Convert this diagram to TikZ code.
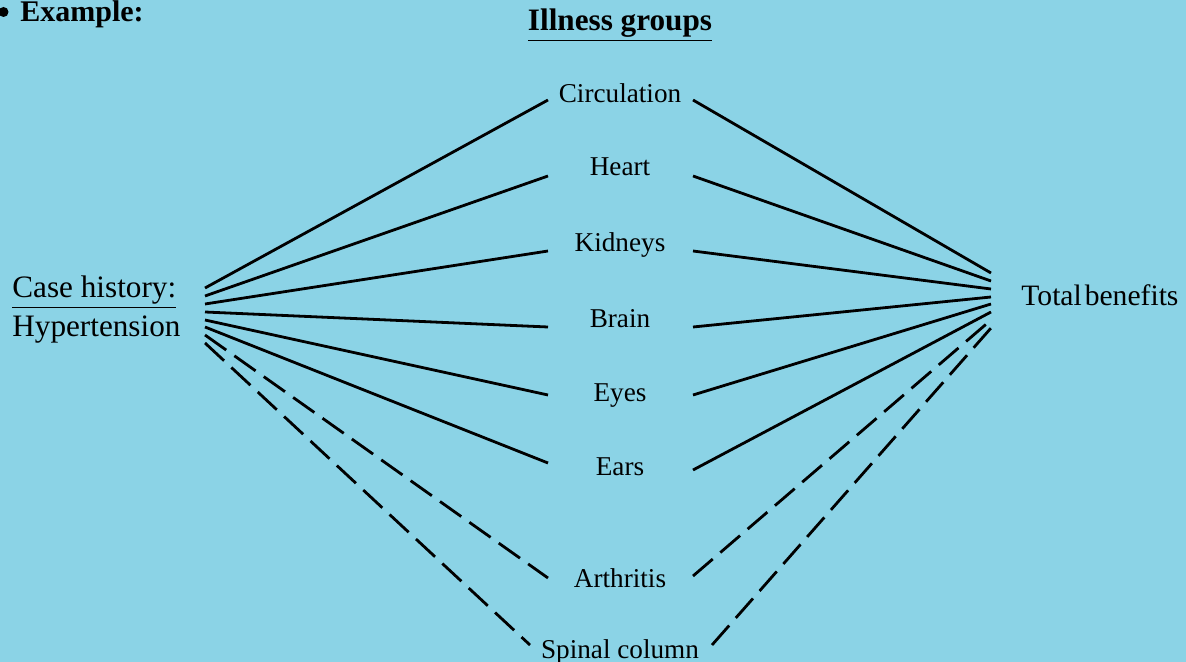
\documentclass[tikz,border=0pt]{standalone}
\usepackage{fontspec}
\setmainfont{Liberation Serif}
\definecolor{bgblue}{HTML}{8BD3E6}
\begin{document}
\begin{tikzpicture}[x={(0.5pt,0)},y={(0,-0.5pt)},
  lbl/.style={inner sep=0pt,anchor=base,font=\fontsize{13.6pt}{15pt}\selectfont},
  big/.style={inner sep=0pt,anchor=base west,font=\fontsize{15.6pt}{18pt}\selectfont},
  link/.style={line width=1.4pt},
  dlink/.style={line width=1.4pt,dash pattern=on 13pt off 5pt}]
\fill[bgblue] (0,0) rectangle (1186,662);
\useasboundingbox (0,0) rectangle (1186,662);
% headers
\fill (3.5,12) circle[radius=5];
\node[big,font=\fontsize{15pt}{18pt}\selectfont\bfseries] (ex) at (20,22) {Example:};
\node[big,anchor=base,font=\fontsize{15.6pt}{18pt}\selectfont\bfseries] (ill) at (620,31) {\underline{Illness groups}};
% side labels
\node[big] (case) at (12,298) {\underline{Case history:}};
\node[big] (hyp) at (12,336) {Hypertension};
\node[big,font=\fontsize{14.8pt}{18pt}\selectfont] (tot) at (1021,306) {Total\hspace{0.1em}benefits};
% middle labels
\node[lbl] (circ) at (620,103) {Circulation};
\node[lbl] (heart) at (620,176) {Heart};
\node[lbl] (kid) at (620,252) {Kidneys};
\node[lbl] (brain) at (620,327) {Brain};
\node[lbl] (eyes) at (620,401) {Eyes};
\node[lbl] (ears) at (620,475) {Ears};
\node[lbl] (arth) at (620,587) {Arthritis};
\node[lbl] (spin) at (620,658) {Spinal column};
% endpoints left
\coordinate (L1) at (205,288);
\coordinate (L2) at (205,296);
\coordinate (L3) at (205,304);
\coordinate (L4) at (205,312);
\coordinate (L5) at (205,320);
\coordinate (L6) at (205,327);
\coordinate (L7) at (205,335);
\coordinate (L8) at (205,343);
% endpoints right
\coordinate (R1) at (991,273);
\coordinate (R2) at (991,281);
\coordinate (R3) at (991,289);
\coordinate (R4) at (991,297);
\coordinate (R5) at (991,304);
\coordinate (R6) at (991,312);
\coordinate (R7) at (991,320);
\coordinate (R8) at (991,328);
% label ends
\coordinate (circW) at (548,100);  \coordinate (circE) at (693,100);
\coordinate (heartW) at (548,176); \coordinate (heartE) at (693,176);
\coordinate (kidW) at (548,251);   \coordinate (kidE) at (693,251);
\coordinate (brainW) at (548,327); \coordinate (brainE) at (693,327);
\coordinate (eyesW) at (548,395);  \coordinate (eyesE) at (693,395);
\coordinate (earsW) at (548,463);  \coordinate (earsE) at (693,470);
\coordinate (arthW) at (548,578);  \coordinate (arthE) at (693,576);
\coordinate (spinW) at (530,645);  \coordinate (spinE) at (712,645);
% connectors
\draw[link] (L1) -- (circW);  \draw[link] (circE) -- (R1);
\draw[link] (L2) -- (heartW); \draw[link] (heartE) -- (R2);
\draw[link] (L3) -- (kidW);   \draw[link] (kidE) -- (R3);
\draw[link] (L4) -- (brainW); \draw[link] (brainE) -- (R4);
\draw[link] (L5) -- (eyesW);  \draw[link] (eyesE) -- (R5);
\draw[link] (L6) -- (earsW);  \draw[link] (earsE) -- (R6);
\draw[dlink] (L7) -- (arthW); \draw[dlink] (arthE) -- (R7);
\draw[dlink] (L8) -- (spinW); \draw[dlink] (spinE) -- (R8);
\end{tikzpicture}
\end{document}
